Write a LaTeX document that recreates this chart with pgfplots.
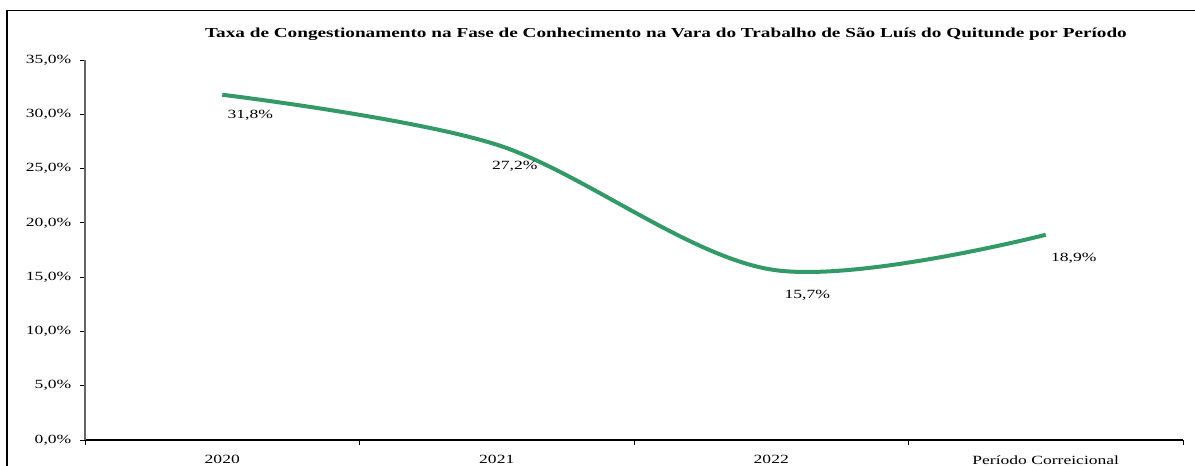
\documentclass[border=0pt]{standalone}
\usepackage{fontspec}
\setmainfont{Liberation Serif}[FakeStretch=1.4]
\usepackage{pgfplots}
\pgfplotsset{compat=1.18}
\definecolor{linegreen}{RGB}{51,153,102}

\begin{document}
\begin{tikzpicture}
\useasboundingbox (0,0) rectangle (896.25pt,349.5pt);
% frame of the chart area (cut off at right and bottom)
\draw[line width=1.4pt] (5.4pt,-5pt) -- (5.4pt,341.6pt) -- (905pt,341.6pt);
\node[font=\bfseries\fontsize{10.3}{12}\selectfont] at (499.5pt,324pt)
  {Taxa de Congestionamento na Fase de Conhecimento na Vara do Trabalho de São Luís do Quitunde por Período};
\begin{axis}[
    at={(63.75pt,19.5pt)},
    anchor=south west,
    scale only axis,
    width=823.5pt,
    height=285pt,
    xmin=-0.5, xmax=3.5,
    ymin=0, ymax=35,
    axis x line*=bottom,
    axis y line*=left,
    x axis line style={black, line width=0.8pt},
    y axis line style={gray!80!black, line width=0.8pt},
    tick align=outside,
    xtick={0,1,2,3},
    xticklabels={2020,2021,2022,Período Correicional},
    major x tick style={draw=none},
    minor xtick={-0.5,0.5,1.5,2.5,3.5},
    minor tick length=3.75pt,
    major tick length=3.75pt,
    ytick={0,5,10,15,20,25,30,35},
    yticklabels={{0,0\%},{5,0\%},{10,0\%},{15,0\%},{20,0\%},{25,0\%},{30,0\%},{35,0\%}},
    tick style={black, line width=0.6pt},
    tick label style={font=\fontsize{9.4}{11}\selectfont},
    yticklabel style={xshift=-3pt},
    xticklabel style={yshift=-4.3pt},
    clip=false,
]
\addplot[linegreen, line width=3pt, smooth, tension=0.55,
    nodes near coords, point meta=explicit symbolic,
    visualization depends on={\thisrow{dx} \as \dx},
    visualization depends on={\thisrow{dy} \as \dy},
    every node near coord/.append style={anchor=center, text=black,
        font=\fontsize{9.4}{11}\selectfont, xshift=\dx pt, yshift=\dy pt},
] table[x=x, y=y, meta=label] {
x y dx dy label
0 31.8 21 -15.5 31,8\%
1 27.2 13.5 -16 27,2\%
2 15.7 27 -19 15,7\%
3 18.9 21 -18 18,9\%
};
\end{axis}
\end{tikzpicture}
\end{document}
